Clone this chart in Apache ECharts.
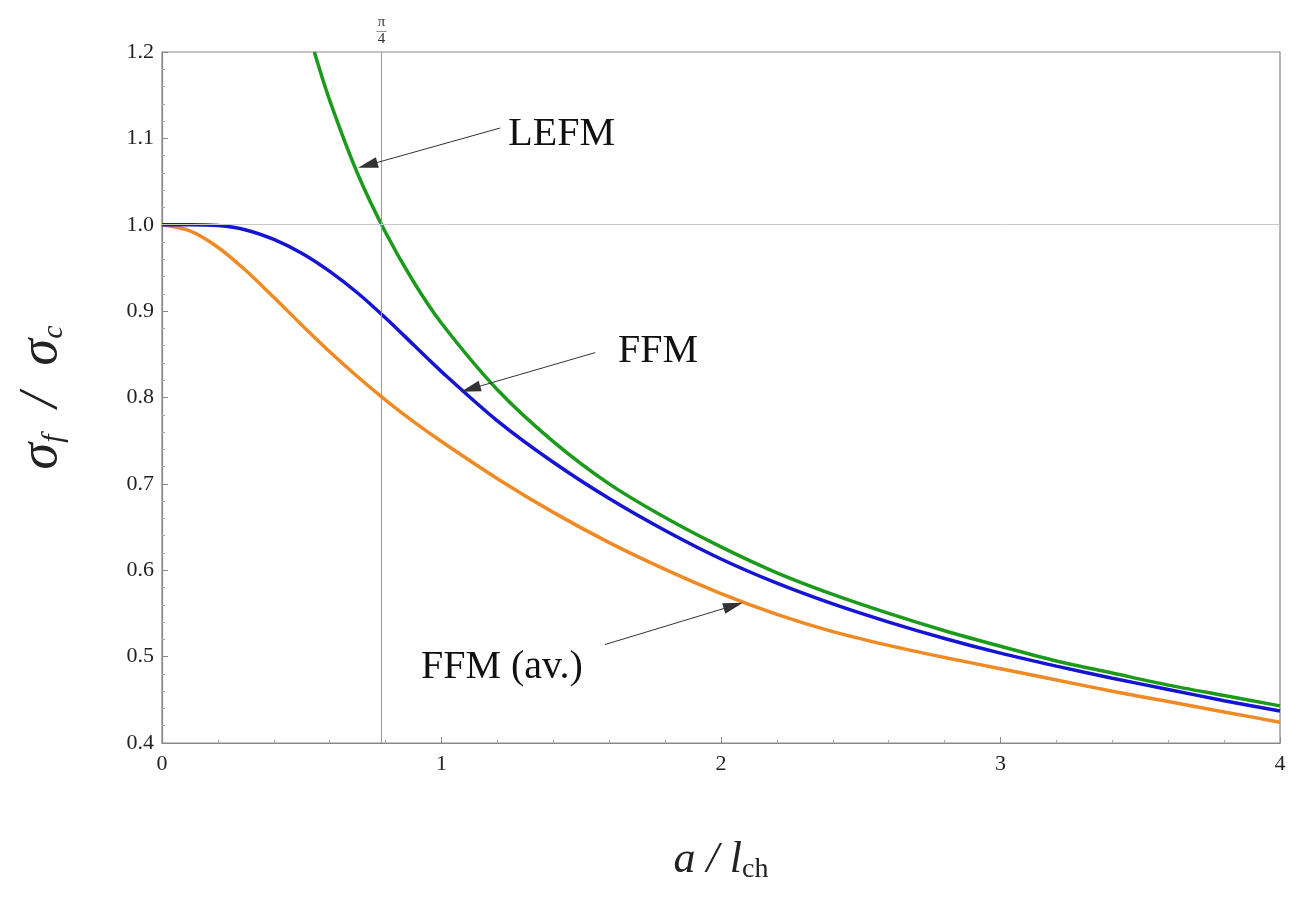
<!DOCTYPE html>
<html>
<head>
<meta charset="utf-8">
<script src="https://cdn.jsdelivr.net/npm/echarts@6/dist/echarts.min.js"></script>
<style>html,body{margin:0;padding:0;background:#fff}#c{width:1300px;height:897px}</style>
</head>
<body>
<div id="c"></div>
<script>
// ---- data ----
const lefmX = [0.545, 0.6, 0.7, 0.8, 0.9, 1.0, 1.2, 1.4, 1.6, 1.8, 2.0, 2.2, 2.4, 2.6, 2.8, 3.0, 3.2, 3.4, 3.6, 3.8, 4.0];
const lefmY = [1.2, 1.144, 1.059, 0.991, 0.934, 0.886, 0.809, 0.749, 0.700, 0.661, 0.627, 0.597, 0.572, 0.550, 0.530, 0.512, 0.495, 0.481, 0.467, 0.455, 0.443];

const ffmX = [0, 0.1, 0.2, 0.3, 0.4, 0.5, 0.6, 0.7, 0.8, 0.9, 1.0, 1.2, 1.4, 1.6, 1.8, 2.0, 2.2, 2.4, 2.6, 2.8, 3.0, 3.2, 3.4, 3.6, 3.8, 4.0];
const ffmY = [1.0, 1.0, 0.999, 0.994, 0.983, 0.967, 0.946, 0.921, 0.892, 0.861, 0.830, 0.773, 0.725, 0.683, 0.646, 0.613, 0.585, 0.561, 0.540, 0.521, 0.504, 0.489, 0.475, 0.462, 0.449, 0.437];

const ffmAvX = [0, 0.1, 0.2, 0.3, 0.4, 0.5, 0.6, 0.7, 0.8, 0.9, 1.0, 1.2, 1.4, 1.6, 1.8, 2.0, 2.2, 2.4, 2.6, 2.8, 3.0, 3.2, 3.4, 3.6, 3.8, 4.0];
const ffmAvY = [1.0, 0.993, 0.974, 0.947, 0.916, 0.884, 0.853, 0.824, 0.797, 0.772, 0.749, 0.706, 0.667, 0.632, 0.601, 0.573, 0.549, 0.529, 0.513, 0.499, 0.486, 0.473, 0.460, 0.448, 0.436, 0.424];

const xTicks = [0, 1, 2, 3, 4];
const yTicks = [0.4, 0.5, 0.6, 0.7, 0.8, 0.9, 1.0, 1.1, 1.2];
const piQuarter = Math.PI / 4;

// annotation anchor points (data coordinates): tail, arrowhead centre
const lefmArrow = [[1.21, 1.112], [0.736, 1.069]];
const lefmText = [1.43, 1.104];
const ffmArrow = [[1.55, 0.852], [1.104, 0.810]];
const ffmText = [1.775, 0.853];
const ffmAvArrow = [[1.585, 0.514], [2.044, 0.559]];
const ffmAvText = [1.216, 0.487];

const zip = (xs, ys) => xs.map((x, i) => [x, ys[i]]);
const FONT = 'Liberation Serif';

function arrow(pts) {
  return [
    { coord: pts[0], symbol: 'none' },
    { coord: pts[1], symbol: 'triangle', symbolSize: [11, 20] }
  ];
}
function textPt(pt, txt) {
  return {
    coord: pt, symbol: 'circle', symbolSize: 0,
    label: { show: true, position: 'inside', formatter: txt, fontFamily: FONT, fontSize: 40, color: '#111' }
  };
}

const chart = echarts.init(document.getElementById('c'));
chart.setOption({
  animation: false,
  backgroundColor: '#fff',
  grid: { left: 162, right: 20, top: 52, bottom: 154, show: true, borderColor: '#888', borderWidth: 1.2 },
  xAxis: {
    type: 'value', min: 0, max: 4, interval: 1,
    axisLine: { show: true, lineStyle: { color: '#888', width: 1.2 } },
    axisTick: { show: true, inside: true, length: 6, lineStyle: { color: '#888' } },
    minorTick: { show: true, splitNumber: 5, length: 3, lineStyle: { color: '#aaa' } },
    splitLine: { show: false },
    axisLabel: { fontFamily: FONT, fontSize: 22, color: '#222', margin: 10,
      formatter: v => xTicks.includes(v) ? String(v) : '' },
    name: '{i|a / l}{s|ch}', nameLocation: 'middle', nameGap: 92,
    nameTextStyle: { rich: {
      i: { fontFamily: FONT, fontStyle: 'italic', fontSize: 44, color: '#222', lineHeight: 50 },
      s: { fontFamily: FONT, fontSize: 28, color: '#222', padding: [20, 0, 0, 0] }
    } }
  },
  yAxis: {
    type: 'value', min: 0.4, max: 1.2, interval: 0.1,
    axisLine: { show: true, lineStyle: { color: '#888', width: 1.2 } },
    axisTick: { show: true, inside: true, length: 6, lineStyle: { color: '#888' } },
    minorTick: { show: true, splitNumber: 5, length: 3, lineStyle: { color: '#aaa' } },
    splitLine: { show: false },
    axisLabel: { fontFamily: FONT, fontSize: 22, color: '#222', margin: 8,
      formatter: v => { const t = yTicks.find(y => Math.abs(y - v) < 1e-6); return t === undefined ? '' : t.toFixed(1); } },
    name: '{i|σ}{s|f}{i|  /  σ}{s|c}', nameLocation: 'middle', nameGap: 90, nameRotate: 90,
    nameTextStyle: { rich: {
      i: { fontFamily: FONT, fontStyle: 'italic', fontSize: 54, color: '#222', lineHeight: 60 },
      s: { fontFamily: FONT, fontStyle: 'italic', fontSize: 30, color: '#222', padding: [24, 0, 0, 0] }
    } }
  },
  series: [
    {
      name: 'LEFM', type: 'line', data: zip(lefmX, lefmY), smooth: 0.3, showSymbol: false,
      lineStyle: { color: '#1c9a1c', width: 3.5 }, z: 3,
      markLine: {
        silent: true, animation: false,
        label: { show: false },
        lineStyle: { color: '#333', width: 1, type: 'solid' },
        data: [
          [{ coord: [piQuarter, 0.4], symbol: 'none', lineStyle: { color: '#999', width: 1 } },
           { coord: [piQuarter, 1.2], symbol: 'none', lineStyle: { color: '#999', width: 1 },
             label: { show: true, position: 'end', distance: 6, formatter: '{a|π}\n{b|—}\n{a|4}',
               rich: { a: { fontFamily: FONT, fontSize: 15, color: '#333', lineHeight: 13, align: 'center' },
                       b: { fontFamily: FONT, fontSize: 10, color: '#333', lineHeight: 4, align: 'center' } } } }],
          [{ coord: [0, 1.0], symbol: 'none', lineStyle: { color: '#c8c8c8', width: 1 } },
           { coord: [4, 1.0], symbol: 'none', lineStyle: { color: '#c8c8c8', width: 1 } }],
          arrow(lefmArrow), arrow(ffmArrow), arrow(ffmAvArrow)
        ]
      },
      markPoint: {
        silent: true, animation: false,
        data: [textPt(lefmText, 'LEFM'), textPt(ffmText, 'FFM'), textPt(ffmAvText, 'FFM (av.)')]
      }
    },
    {
      name: 'FFM', type: 'line', data: zip(ffmX, ffmY), smooth: 0.3, showSymbol: false,
      lineStyle: { color: '#1414d2', width: 3.5 }, z: 4
    },
    {
      name: 'FFM (av.)', type: 'line', data: zip(ffmAvX, ffmAvY), smooth: 0.3, showSymbol: false,
      lineStyle: { color: '#f08a24', width: 3.5 }, z: 2
    }
  ]
});
</script>
</body>
</html>
